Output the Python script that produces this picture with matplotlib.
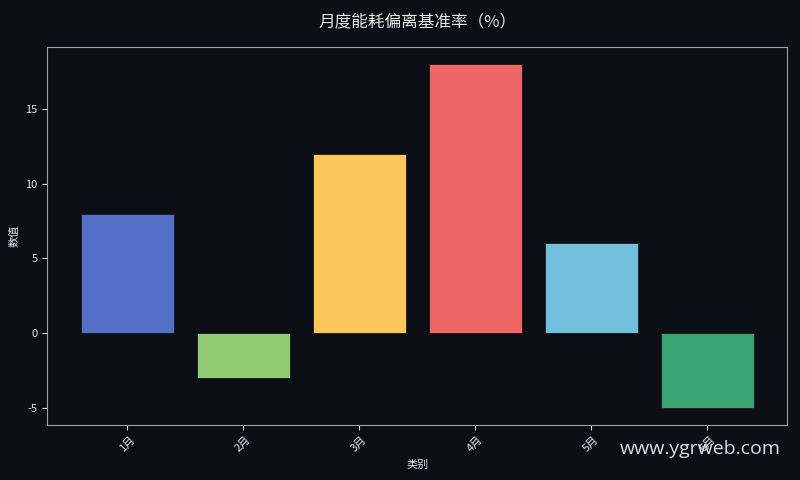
import matplotlib
matplotlib.use('Agg')
import matplotlib.pyplot as plt

plt.rcParams['font.family'] = ['Noto Sans CJK SC', 'DejaVu Sans']
plt.rcParams['axes.unicode_minus'] = False

categories = ['1月', '2月', '3月', '4月', '5月', '6月']
values = [8, -3, 12, 18, 6, -5]
colors = ['#5470c6', '#91cc75', '#fac858', '#ee6666', '#73c0de', '#3ba272']

bg = '#0b0e14'
fg = '#e6e6e6'

fig, ax = plt.subplots(figsize=(8, 4.8), dpi=100)
fig.patch.set_facecolor(bg)
ax.set_facecolor(bg)

ax.bar(range(len(categories)), values, width=0.8, color=colors,
       edgecolor='#1a1a1a', linewidth=0.6)
ax.set_xticks(range(len(categories)))
ax.set_xticklabels(categories, rotation=45, fontsize=8, color=fg)
ax.tick_params(axis='y', labelsize=8, colors=fg)
ax.tick_params(axis='x', colors=fg)
ax.set_xlabel('类别', fontsize=8, color=fg)
ax.set_ylabel('数值', fontsize=8, color=fg)
ax.set_title('月度能耗偏离基准率（%）', fontsize=12, color=fg, pad=15)
for sp in ax.spines.values():
    sp.set_color('#a0a0a0')

fig.subplots_adjust(left=0.059, right=0.984, top=0.902, bottom=0.115)
fig.text(0.976, 0.065, 'www.ygrweb.com', ha='right', va='center',
         fontsize=14, color='#dddddd', family=['Open Sans', 'DejaVu Sans'])

plt.savefig('out.png', facecolor=bg)
